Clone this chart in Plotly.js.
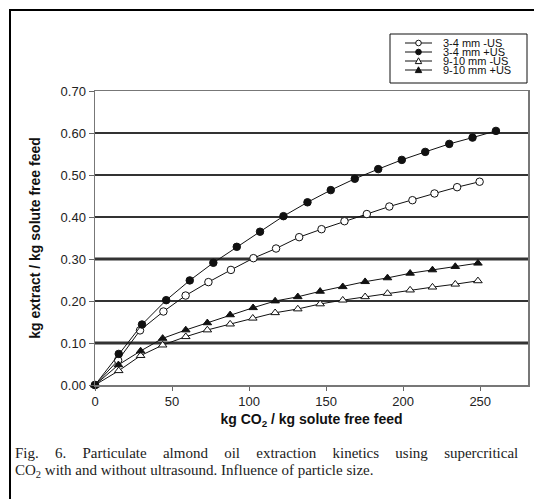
<!DOCTYPE html>
<html>
<head>
<meta charset="utf-8">
<script src="https://cdn.plot.ly/plotly-3.0.1.min.js"></script>
<style>
  html, body { margin: 0; padding: 0; background: #fff; }
  #chart { width: 534px; height: 499px; }
</style>
</head>
<body>
<div id="chart"></div>
<script>
// ---------------- DATA ----------------
const seriesNames = ["3-4 mm -US", "3-4 mm +US", "9-10 mm -US", "9-10 mm +US"];

const x_34_noUS = [0, 15.0, 29.2, 44.4, 58.8, 73.6, 88.2, 102.8, 117.5, 132.5, 147.0, 161.9, 176.4, 191.0, 206.0, 220.3, 235.0, 249.6];
const y_34_noUS = [0, 0.059, 0.130, 0.175, 0.213, 0.245, 0.274, 0.302, 0.325, 0.352, 0.371, 0.390, 0.407, 0.425, 0.440, 0.456, 0.471, 0.484];

const x_34_US = [0, 15.4, 30.5, 46.2, 61.5, 76.8, 92.0, 107.1, 122.3, 137.9, 153.0, 168.6, 183.8, 199.1, 214.3, 229.9, 245.0, 260.2];
const y_34_US = [0, 0.074, 0.144, 0.202, 0.249, 0.291, 0.329, 0.365, 0.402, 0.435, 0.464, 0.491, 0.514, 0.536, 0.555, 0.574, 0.589, 0.605];

const x_910_noUS = [0, 15.4, 29.6, 43.9, 58.9, 72.9, 87.7, 102.4, 116.9, 131.6, 146.1, 160.8, 175.3, 189.8, 204.5, 219.0, 233.8, 248.5];
const y_910_noUS = [0, 0.034, 0.070, 0.095, 0.115, 0.131, 0.145, 0.159, 0.172, 0.181, 0.193, 0.202, 0.210, 0.218, 0.226, 0.233, 0.240, 0.248];

const x_910_US = [0, 15.2, 29.6, 43.9, 58.9, 72.9, 87.7, 102.6, 116.9, 131.6, 146.1, 160.8, 175.3, 189.8, 204.5, 219.0, 233.8, 248.5];
const y_910_US = [0, 0.048, 0.081, 0.111, 0.131, 0.148, 0.167, 0.184, 0.200, 0.210, 0.223, 0.234, 0.246, 0.255, 0.266, 0.274, 0.282, 0.290];

const xTickVals = [0, 50, 100, 150, 200, 250];
const yTickVals = [0, 0.10, 0.20, 0.30, 0.40, 0.50, 0.60, 0.70];
const thickGridVals = [0.10, 0.30];

const xTitle = "kg CO<sub>2</sub> / kg solute free feed";
const yTitle = "kg extract / kg solute free feed";
const captionLine1Words = ["Fig.", "6.", "Particulate", "almond", "oil", "extraction", "kinetics", "using", "supercritical"];
const captionLine2 = "CO<sub>2</sub> with and without ultrasound. Influence of particle size.";

// ---------------- STYLE ----------------
const SANS = "Liberation Sans, Arial, sans-serif";
const SERIF = "Liberation Serif, Times New Roman, serif";
const filled = [false, true, false, true];
const xs = [x_34_noUS, x_34_US, x_910_noUS, x_910_US];
const ys = [y_34_noUS, y_34_US, y_910_noUS, y_910_US];

// plot area in pixels (for placing decorations)
const PL = 95, PR = 528, PT = 91, PB = 385;
const px = v => (v - PL) / (PR - PL);
const py = v => (PB - v) / (PB - PT);

const traces = seriesNames.map((name, i) => ({
  type: "scatter",
  mode: "lines+markers",
  name: name,
  x: xs[i],
  y: ys[i],
  showlegend: false,
  cliponaxis: false,
  line: { color: "#111", width: 1 },
  marker: {
    symbol: i < 2 ? "circle" : "triangle-up",
    size: 7.5,
    color: filled[i] ? "#111" : "#fff",
    line: { color: "#111", width: 1 }
  }
}));

const shapes = [];
// thicker gridlines
thickGridVals.forEach(v => shapes.push({
  type: "line", xref: "paper", x0: 0, x1: 1, yref: "y", y0: v, y1: v,
  line: { color: "#333", width: 3 }, layer: "below"
}));
// outer frame
shapes.push({
  type: "rect", xref: "paper", yref: "paper",
  x0: px(10), x1: px(545), y0: py(520), y1: py(10),
  line: { color: "#000", width: 2 }, fillcolor: "rgba(0,0,0,0)"
});
// legend box
shapes.push({
  type: "rect", xref: "paper", yref: "paper",
  x0: px(390), x1: px(527), y0: py(83), y1: py(34),
  line: { color: "#111", width: 1 }, fillcolor: "rgba(0,0,0,0)"
});

const annotations = [];
const rowY = [43, 52, 61, 70];
seriesNames.forEach((name, i) => {
  const yy = py(rowY[i]);
  shapes.push({
    type: "line", xref: "paper", yref: "paper",
    x0: px(405), x1: px(432), y0: yy, y1: yy,
    line: { color: "#111", width: 1 }
  });
  if (i < 2) {
    shapes.push({
      type: "circle", xref: "paper", yref: "paper",
      xsizemode: "pixel", ysizemode: "pixel",
      xanchor: px(418.5), yanchor: yy,
      x0: -2.8, x1: 2.8, y0: -2.8, y1: 2.8,
      line: { color: "#111", width: 1 },
      fillcolor: filled[i] ? "#111" : "#fff"
    });
  } else {
    shapes.push({
      type: "path", xref: "paper", yref: "paper",
      xsizemode: "pixel", ysizemode: "pixel",
      xanchor: px(418.5), yanchor: yy,
      path: "M-3.2,-2.6 L3.2,-2.6 L0,3.2 Z",
      line: { color: "#111", width: 1 },
      fillcolor: filled[i] ? "#111" : "#fff"
    });
  }
  annotations.push({
    xref: "paper", yref: "paper", x: px(441), y: yy,
    xanchor: "left", yanchor: "middle", showarrow: false,
    text: name, font: { family: SANS, size: 11, color: "#111" }
  });
});

// caption
const NB = "\u00a0";
const gap = " " + NB + NB + NB + "\u200a";
annotations.push({
  xref: "paper", yref: "paper", x: px(13), y: py(453),
  xanchor: "left", yanchor: "middle", showarrow: false,
  text: captionLine1Words.join(gap),
  font: { family: SERIF, size: 15, color: "#222" }
});
annotations.push({
  xref: "paper", yref: "paper", x: px(13), y: py(471),
  xanchor: "left", yanchor: "middle", showarrow: false,
  text: captionLine2,
  font: { family: SERIF, size: 15, color: "#222" }
});

const layout = {
  width: 534, height: 499,
  margin: { l: PL, r: 534 - PR, t: PT, b: 499 - PB, pad: 0 },
  paper_bgcolor: "#fff", plot_bgcolor: "#fff",
  showlegend: false,
  xaxis: {
    range: [0, 281],
    tickvals: xTickVals,
    ticks: "outside", ticklen: 4, tickcolor: "#666", tickwidth: 1,
    showline: true, linecolor: "#777", linewidth: 1.5, mirror: true,
    showgrid: false, zeroline: false,
    tickfont: { family: SANS, size: 13, color: "#222" },
    title: { text: xTitle, font: { family: SANS, size: 14, color: "#111", weight: "bold" }, standoff: 6 }
  },
  yaxis: {
    range: [0, 0.70],
    tickvals: yTickVals, tickformat: ".2f",
    ticks: "outside", ticklen: 5, tickcolor: "#666", tickwidth: 1,
    showline: true, linecolor: "#777", linewidth: 1.5, mirror: true,
    showgrid: true, gridcolor: "#333", gridwidth: 1.3, zeroline: false,
    tickfont: { family: SANS, size: 13, color: "#222" },
    title: { text: yTitle, font: { family: SANS, size: 14, color: "#111", weight: "bold" }, standoff: 16 }
  },
  shapes: shapes,
  annotations: annotations
};

Plotly.newPlot("chart", traces, layout, { displayModeBar: false, staticPlot: true });
</script>
</body>
</html>
